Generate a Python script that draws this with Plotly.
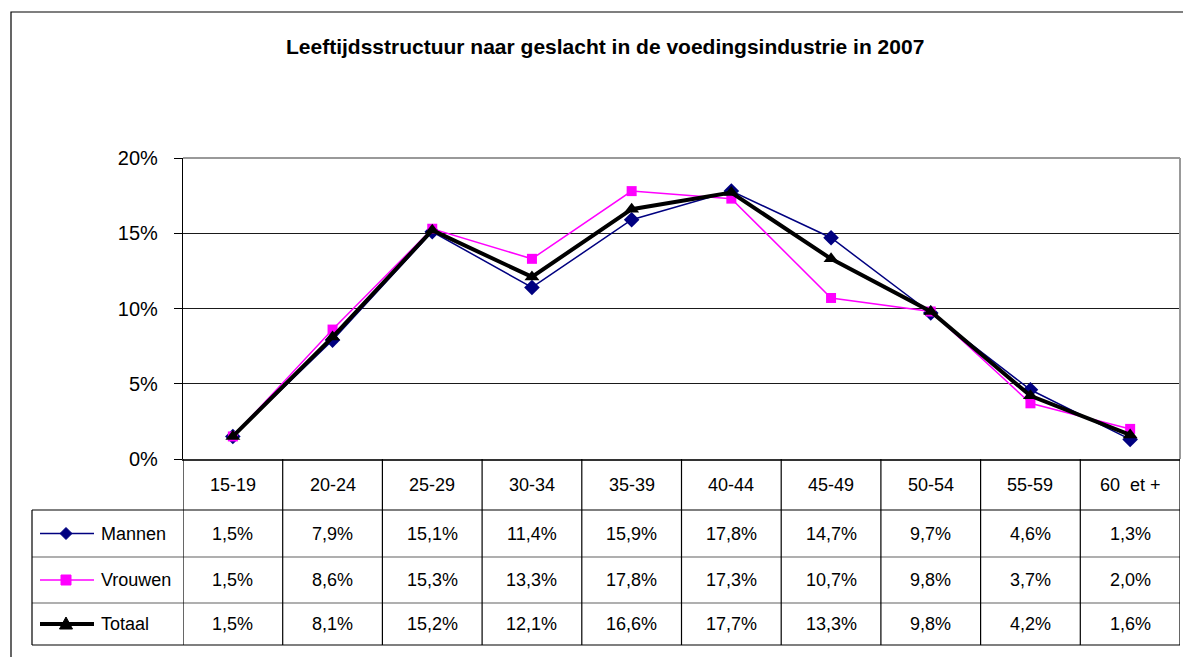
import plotly.graph_objects as go

title = "Leeftijdsstructuur naar geslacht in de voedingsindustrie in 2007"
categories = ["15-19", "20-24", "25-29", "30-34", "35-39", "40-44", "45-49", "50-54", "55-59", "60  et +"]
mannen = [1.5, 7.9, 15.1, 11.4, 15.9, 17.8, 14.7, 9.7, 4.6, 1.3]
vrouwen = [1.5, 8.6, 15.3, 13.3, 17.8, 17.3, 10.7, 9.8, 3.7, 2.0]
totaal = [1.5, 8.1, 15.2, 12.1, 16.6, 17.7, 13.3, 9.8, 4.2, 1.6]
y_ticks = [0, 5, 10, 15, 20]

series = [
    ("Mannen", mannen, "#000080", 1.5, "diamond", 12),
    ("Vrouwen", vrouwen, "#FF00FF", 1.5, "square", 10),
    ("Totaal", totaal, "#000000", 4, "triangle-up", 13),
]

FONT = "Liberation Sans, Arial, sans-serif"
W_FIG, H_FIG = 1183, 657
L, R, T, B = 183, 1180, 158, 459
PW, PH = R - L, B - T


def px(xp):
    return (xp - L) / PW


def py(yp):
    return (B - yp) / PH


fig = go.Figure()
xs = list(range(len(categories)))
for name, vals, color, lw, sym, ms in series:
    fig.add_trace(go.Scatter(
        x=xs, y=vals, mode="lines+markers", name=name,
        line=dict(color=color, width=lw),
        marker=dict(symbol=sym, size=ms, color=color),
        showlegend=False, cliponaxis=False,
    ))

shapes = []
annotations = []


def ann(x, y, text, xref="paper", size=18, xanchor="center", bold=False):
    annotations.append(dict(x=x, y=y, xref=xref, yref="paper",
                            text=f"<b>{text}</b>" if bold else text,
                            showarrow=False, xanchor=xanchor, yanchor="middle",
                            font=dict(family=FONT, size=size, color="black")))


# outer chart border
shapes.append(dict(type="rect", xref="paper", yref="paper",
                   x0=px(11), x1=px(1190), y0=py(670), y1=py(12),
                   line=dict(color="black", width=1.2), layer="below"))
# plot area border (top/right gray)
shapes.append(dict(type="line", xref="paper", yref="paper", x0=0, x1=1, y0=1, y1=1,
                   line=dict(color="#999999", width=2)))
shapes.append(dict(type="line", xref="paper", yref="paper", x0=1, x1=1, y0=0, y1=1,
                   line=dict(color="#999999", width=2)))

# table grid
row_lines = [510, 557, 603, 645]
for i, yl in enumerate(row_lines):
    shapes.append(dict(type="line", xref="paper", yref="paper", x0=px(32), x1=1,
                       y0=py(yl), y1=py(yl),
                       line=dict(color="black" if i in (0, 3) else "#606060", width=1.2)))
shapes.append(dict(type="line", xref="paper", yref="paper", x0=px(32), x1=px(32),
                   y0=py(510), y1=py(645), line=dict(color="black", width=1.2)))
for k in range(len(categories) + 1):
    shapes.append(dict(type="line", xref="x", yref="paper", x0=k - 0.5, x1=k - 0.5,
                       y0=py(645), y1=0, line=dict(color="black", width=1.2)))

# header row (categories)
for i, c in enumerate(categories):
    ann(i, py(484.5), c, xref="x")

row_centers = [533.5, 580, 624]
for (name, vals, color, lw, sym, ms), yc in zip(series, row_centers):
    for i, v in enumerate(vals):
        ann(i, py(yc), f"{v:.1f}%".replace(".", ","), xref="x")
    ann(px(99), py(yc), name, xanchor="left")
    shapes.append(dict(type="line", xref="paper", yref="paper", x0=px(40), x1=px(94),
                       y0=py(yc), y1=py(yc), line=dict(color=color, width=lw)))
    cx = 66
    if sym == "diamond":
        path = (f"M {px(cx-6)} {py(yc)} L {px(cx)} {py(yc-6)} L {px(cx+6)} {py(yc)} "
                f"L {px(cx)} {py(yc+6)} Z")
    elif sym == "square":
        path = (f"M {px(cx-5)} {py(yc-5)} L {px(cx+5)} {py(yc-5)} L {px(cx+5)} {py(yc+5)} "
                f"L {px(cx-5)} {py(yc+5)} Z")
    else:
        path = (f"M {px(cx-6.5)} {py(yc+5)} L {px(cx+6.5)} {py(yc+5)} L {px(cx)} {py(yc-7)} Z")
    shapes.append(dict(type="path", xref="paper", yref="paper", path=path,
                       fillcolor=color, line=dict(color=color, width=1)))

# title
ann(px(605), py(47), title, size=21, bold=True)

fig.update_layout(
    width=W_FIG, height=H_FIG, autosize=False,
    margin=dict(l=L, r=W_FIG - R, t=T, b=H_FIG - B, pad=0),
    paper_bgcolor="white", plot_bgcolor="white",
    shapes=shapes, annotations=annotations,
    xaxis=dict(type="linear", range=[-0.5, len(categories) - 0.5], showticklabels=False,
               showgrid=False, zeroline=False, showline=True, linecolor="#333333",
               linewidth=2, ticks="", fixedrange=True),
    yaxis=dict(range=[0, 20], tickvals=y_ticks, ticktext=[f"{v}%" for v in y_ticks],
               showgrid=True, gridcolor="#1a1a1a", gridwidth=1, zeroline=False,
               showline=True, linecolor="black", linewidth=1.2,
               ticks="outside", ticklen=8, tickcolor="black",
               ticklabelstandoff=12, fixedrange=True,
               tickfont=dict(family=FONT, size=20, color="black")),
)

fig.write_html("out.html", config={"displayModeBar": False},
               post_script="document.body.style.margin='0px';")
